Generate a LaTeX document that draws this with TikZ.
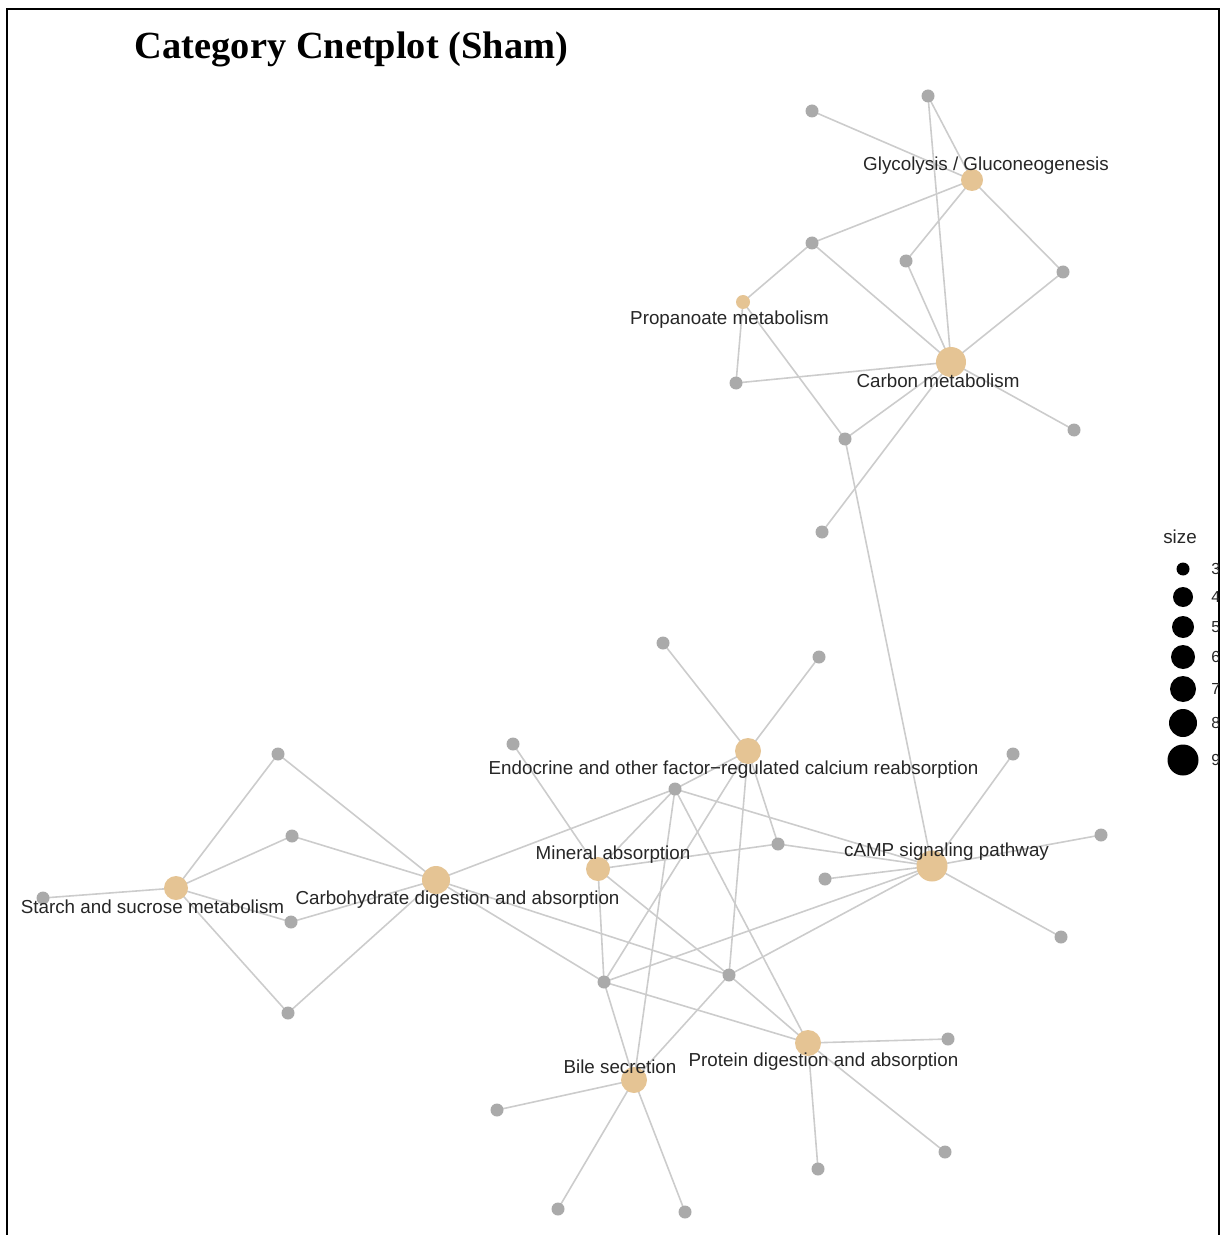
\documentclass[tikz,border=0pt]{standalone}
\usepackage{fontspec}
\setmainfont{Liberation Serif}
\newfontfamily\labfont{Liberation Sans}
\pgfdeclarelayer{bg}
\pgfsetlayers{bg,main}
\definecolor{catc}{RGB}{229,196,148}
\definecolor{genec}{RGB}{170,170,170}
\definecolor{edgec}{RGB}{204,204,204}
\definecolor{txtc}{RGB}{38,38,38}
\begin{document}
\begin{tikzpicture}[x=0.5pt,y=-0.5pt,
 gn/.style={circle,fill=genec,inner sep=0pt,minimum size=6.5pt},
 cn/.style={circle,fill=catc,inner sep=0pt,minimum size=#1},
 lbl/.style={font=\labfont\fontsize{9.4pt}{11pt}\selectfont,text=txtc,inner sep=0pt},
 ed/.style={draw=edgec,line width=0.8pt},
 legdot/.style={circle,fill=black,inner sep=0pt,minimum size=#1}]
\useasboundingbox (0,0) rectangle (1221,1235);
% frame
\draw[line width=1.2pt] (7,1235) -- (7,9) -- (1219,9) -- (1219,1235);
% title
\node[font=\fontsize{19.2pt}{22pt}\selectfont\bfseries,inner sep=0pt] (title) at (351.5,49) {Category Cnetplot (Sham)};
% category nodes
\node[cn=11pt] (G) at (972,180) {};
\node[cn=7pt] (P) at (743,302) {};
\node[cn=15pt] (C) at (951,362) {};
\node[cn=13pt] (E) at (748,751) {};
\node[cn=12pt] (M) at (598,869) {};
\node[cn=15.5pt] (A) at (932,866) {};
\node[cn=14pt] (H) at (436,880) {};
\node[cn=12pt] (S) at (176,888) {};
\node[cn=13pt] (B) at (634,1080) {};
\node[cn=13pt] (Pr) at (808,1043) {};
% gene nodes
\node[gn] (g1) at (812,111) {};
\node[gn] (g2) at (928,96) {};
\node[gn] (g3) at (812,243) {};
\node[gn] (g4) at (906,261) {};
\node[gn] (g5) at (1063,272) {};
\node[gn] (g6) at (736,383) {};
\node[gn] (g7) at (845,439) {};
\node[gn] (g8) at (1074,430) {};
\node[gn] (g9) at (822,532) {};
\node[gn] (g10) at (663,643) {};
\node[gn] (g11) at (819,657) {};
\node[gn] (g12) at (513,744) {};
\node[gn] (g13) at (278,754) {};
\node[gn] (g14) at (1013,754) {};
\node[gn] (g15) at (675,789) {};
\node[gn] (g16) at (292,836) {};
\node[gn] (g17) at (778,844) {};
\node[gn] (g18) at (1101,835) {};
\node[gn] (g19) at (825,879) {};
\node[gn] (g20) at (43,898) {};
\node[gn] (g21) at (291,922) {};
\node[gn] (g22) at (1061,937) {};
\node[gn] (g23) at (604,982) {};
\node[gn] (g24) at (729,975) {};
\node[gn] (g25) at (288,1013) {};
\node[gn] (g26) at (948,1039) {};
\node[gn] (g27) at (497,1110) {};
\node[gn] (g28) at (945,1152) {};
\node[gn] (g29) at (818,1169) {};
\node[gn] (g30) at (558,1209) {};
\node[gn] (g31) at (685,1212) {};
% edges
\begin{pgfonlayer}{bg}
\foreach \a/\b in {g1/G,g2/G,g2/C,G/g3,G/g4,G/g5,g3/P,g3/C,g4/C,g5/C,P/g6,P/g7,g6/C,C/g7,C/g8,C/g9,g7/A,
 A/g14,A/g18,A/g19,A/g22,A/g15,A/g17,A/g23,A/g24,
 Pr/g15,Pr/g23,Pr/g24,Pr/g26,Pr/g28,Pr/g29,
 B/g15,B/g23,B/g24,B/g27,B/g30,B/g31,
 E/g10,E/g11,E/g15,E/g17,E/g23,E/g24,
 M/g12,M/g15,M/g17,M/g23,M/g24,
 H/g13,H/g16,H/g21,H/g25,H/g15,H/g23,H/g24,
 S/g20,S/g13,S/g16,S/g21,S/g25}
 \draw[ed] (\a.center) -- (\b.center);
\end{pgfonlayer}
% labels
\node[lbl] (lG) at (986,166) {Glycolysis / Gluconeogenesis};
\node[lbl] (lP) at (729.5,320) {Propanoate metabolism};
\node[lbl] (lC) at (938,381) {Carbon metabolism};
\node[lbl] (lE) at (733.5,770) {Endocrine and other factor\char"2212 regulated calcium reabsorption};
\node[lbl] (lM) at (613,855) {Mineral absorption};
\node[lbl] (lA) at (946.5,852) {cAMP signaling pathway};
\node[lbl] (lH) at (457.5,900) {Carbohydrate digestion and absorption};
\node[lbl] (lS) at (152.5,907) {Starch and sucrose metabolism};
\node[lbl] (lB) at (620,1067) {Bile secretion};
\node[lbl] (lPr) at (823.5,1062) {Protein digestion and absorption};
% legend
\node[lbl] (lsize) at (1180,537) {size};
\node[legdot=6.5pt] (d3) at (1183,569) {};
\node[legdot=10pt] (d4) at (1183,597) {};
\node[legdot=11pt] (d5) at (1183,627) {};
\node[legdot=12pt] (d6) at (1183,657) {};
\node[legdot=13pt] (d7) at (1183,689) {};
\node[legdot=14pt] (d8) at (1183,723) {};
\node[legdot=15.5pt] (d9) at (1183,760) {};
\begin{scope}
\clip (1200,520) rectangle (1218,790);
\foreach \n/\yy in {3/569,4/597,5/627,6/657,7/689,8/723,9/760}
 \node[lbl,anchor=west,font=\labfont\fontsize{8pt}{9pt}\selectfont] (t\n) at (1211,\yy) {\n};
\end{scope}
\end{tikzpicture}
\end{document}
